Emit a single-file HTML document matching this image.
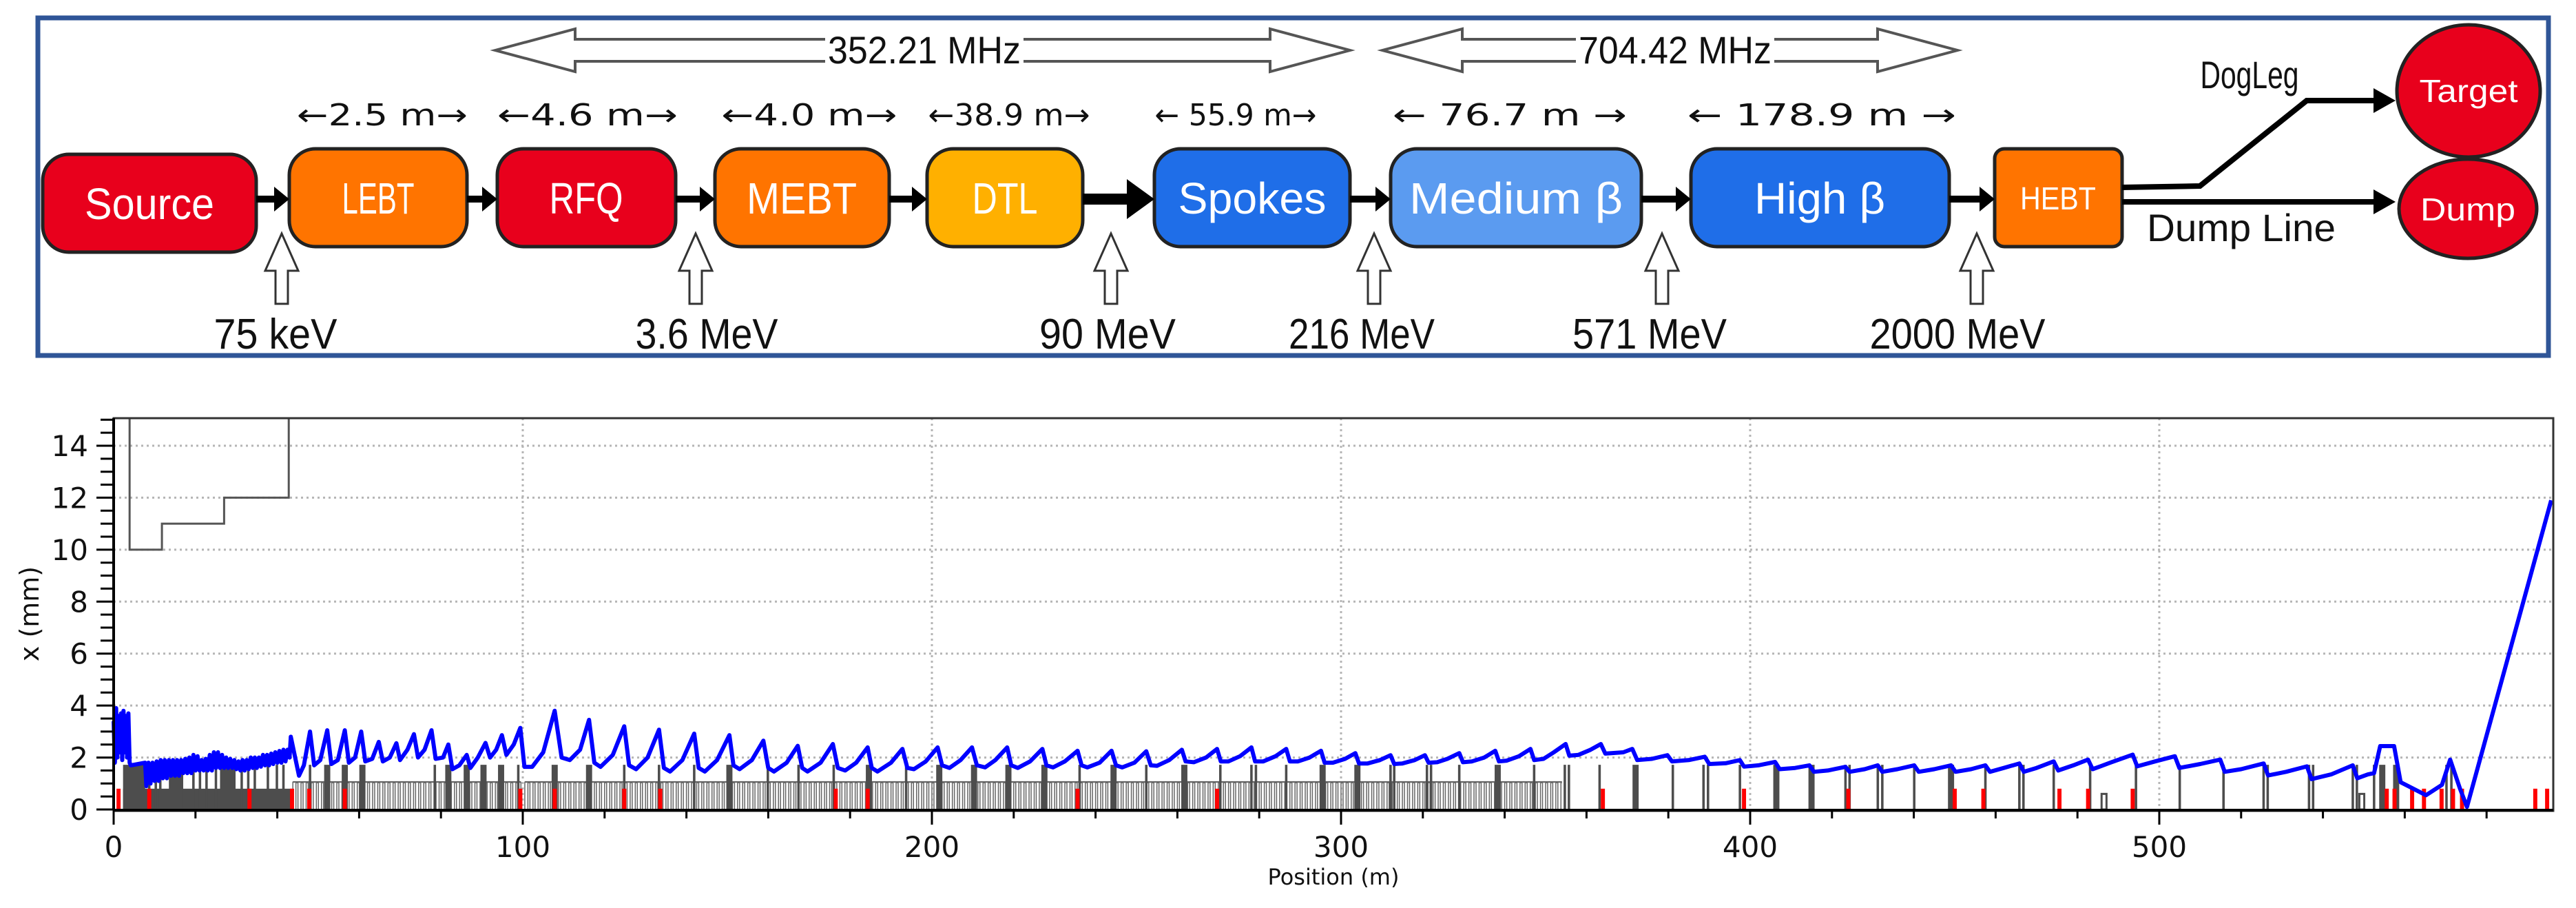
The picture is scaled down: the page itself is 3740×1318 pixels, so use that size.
<!DOCTYPE html>
<html><head><meta charset="utf-8">
<style>
html,body{margin:0;padding:0;background:#fff;}
svg{display:block;}
.lbl{font-family:"Liberation Sans",sans-serif;}
.ar{font-family:"DejaVu Sans","Liberation Sans",sans-serif;}
.tk{font-family:"DejaVu Sans","Liberation Sans",sans-serif;}
</style></head>
<body>
<svg id="root" width="3740" height="1318" viewBox="0 0 3740 1318" xmlns="http://www.w3.org/2000/svg">
<!-- ===== TOP DIAGRAM ===== -->
<g id="diagram">
<rect x="55" y="26" width="3645" height="490" fill="none" stroke="#2f5597" stroke-width="7"/>
<g>
<polygon points="719,73 835,42 835,57 1844,57 1844,42 1960,73 1844,104 1844,89 835,89 835,104" fill="#fff" stroke="#555" stroke-width="4"/>
<rect x="1198" y="46" width="288" height="56" fill="#fff"/>
<text x="1342" y="92" font-size="56" text-anchor="middle" class="lbl" fill="#111" textLength="280" lengthAdjust="spacingAndGlyphs">352.21 MHz</text>
</g>
<g>
<polygon points="2007,73 2123,42 2123,57 2726,57 2726,42 2842,73 2726,104 2726,89 2123,89 2123,104" fill="#fff" stroke="#555" stroke-width="4"/>
<rect x="2288" y="46" width="288" height="56" fill="#fff"/>
<text x="2432" y="92" font-size="56" text-anchor="middle" class="lbl" fill="#111" textLength="280" lengthAdjust="spacingAndGlyphs">704.42 MHz</text>
</g>
<g class="ar" font-size="44" fill="#111" text-anchor="middle">
<text x="555" y="182" textLength="248" lengthAdjust="spacingAndGlyphs">←2.5 m→</text>
<text x="853" y="182" textLength="262" lengthAdjust="spacingAndGlyphs">←4.6 m→</text>
<text x="1175" y="182" textLength="255" lengthAdjust="spacingAndGlyphs">←4.0 m→</text>
<text x="1465" y="182" textLength="235" lengthAdjust="spacingAndGlyphs">←38.9 m→</text>
<text x="1794" y="182" textLength="235" lengthAdjust="spacingAndGlyphs">← 55.9 m→</text>
<text x="2192" y="182" textLength="340" lengthAdjust="spacingAndGlyphs">← 76.7 m →</text>
<text x="2645" y="182" textLength="390" lengthAdjust="spacingAndGlyphs">← 178.9 m →</text>
</g>
<g stroke="#222" stroke-width="5">
<rect x="62" y="224" width="310" height="142" rx="38" fill="#e8001c"/>
<rect x="420" y="216" width="258" height="142" rx="38" fill="#ff7400"/>
<rect x="722" y="216" width="259" height="142" rx="38" fill="#e8001c"/>
<rect x="1038" y="216" width="253" height="142" rx="38" fill="#ff7400"/>
<rect x="1346" y="216" width="226" height="142" rx="38" fill="#ffb000"/>
<rect x="1676" y="216" width="284" height="142" rx="38" fill="#1f6ee8"/>
<rect x="2019" y="216" width="364" height="142" rx="38" fill="#5b9bf0"/>
<rect x="2455" y="216" width="375" height="142" rx="38" fill="#1f6ee8"/>
<rect x="2896" y="216" width="185" height="142" rx="14" fill="#ff7400"/>
<ellipse cx="3584" cy="132" rx="104" ry="96" fill="#e8001c"/>
<ellipse cx="3583" cy="303" rx="100" ry="72" fill="#e8001c"/>
</g>
<g class="lbl" fill="#fff" text-anchor="middle" font-size="64">
<text x="217" y="318" textLength="188" lengthAdjust="spacingAndGlyphs">Source</text>
<text x="549" y="310" textLength="105" lengthAdjust="spacingAndGlyphs">LEBT</text>
<text x="851" y="310" textLength="107" lengthAdjust="spacingAndGlyphs">RFQ</text>
<text x="1164" y="310" textLength="160" lengthAdjust="spacingAndGlyphs">MEBT</text>
<text x="1459" y="310" textLength="95" lengthAdjust="spacingAndGlyphs">DTL</text>
<text x="1818" y="310" textLength="215" lengthAdjust="spacingAndGlyphs">Spokes</text>
<text x="2201" y="310" textLength="310" lengthAdjust="spacingAndGlyphs">Medium β</text>
<text x="2642" y="310" textLength="190" lengthAdjust="spacingAndGlyphs">High β</text>
<text x="2988" y="304" font-size="46" textLength="110" lengthAdjust="spacingAndGlyphs">HEBT</text>
<text x="3584" y="148" font-size="46" textLength="143" lengthAdjust="spacingAndGlyphs">Target</text>
<text x="3583" y="320" font-size="46" textLength="138" lengthAdjust="spacingAndGlyphs">Dump</text>
</g>
<g fill="#000">
<rect x="372" y="284" width="30" height="10"/><polygon points="398,271 420,289 398,307"/>
<rect x="678" y="284" width="26" height="10"/><polygon points="700,271 722,289 700,307"/>
<rect x="981" y="284" width="39" height="10"/><polygon points="1016,271 1038,289 1016,307"/>
<rect x="1291" y="284" width="37" height="10"/><polygon points="1324,271 1346,289 1324,307"/>
<rect x="1572" y="281" width="70" height="16"/><polygon points="1636,260 1676,289 1636,318"/>
<rect x="1960" y="284" width="41" height="10"/><polygon points="1997,271 2019,289 1997,307"/>
<rect x="2383" y="284" width="54" height="10"/><polygon points="2433,271 2455,289 2433,307"/>
<rect x="2830" y="284" width="48" height="10"/><polygon points="2874,271 2896,289 2874,307"/>
</g>
<g fill="none" stroke="#000" stroke-width="8">
<polyline points="3081,272 3194,270 3349,146 3450,146"/>
<line x1="3081" y1="293" x2="3450" y2="293"/>
</g>
<polygon points="3446,128 3478,146 3446,164" fill="#000"/>
<polygon points="3446,275 3478,293 3446,311" fill="#000"/>
<text x="3266" y="128" font-size="56" text-anchor="middle" class="lbl" fill="#111" textLength="143" lengthAdjust="spacingAndGlyphs">DogLeg</text>
<text x="3254" y="350" font-size="56" text-anchor="middle" class="lbl" fill="#111" textLength="274" lengthAdjust="spacingAndGlyphs">Dump Line</text>
<g fill="#fff" stroke="#333" stroke-width="3">
<polygon points="409,339 433,393 418,393 418,441 400,441 400,393 385,393"/>
<polygon points="1010,339 1034,393 1019,393 1019,441 1001,441 1001,393 986,393"/>
<polygon points="1613,339 1637,393 1622,393 1622,441 1604,441 1604,393 1589,393"/>
<polygon points="1995,339 2019,393 2004,393 2004,441 1986,441 1986,393 1971,393"/>
<polygon points="2413,339 2437,393 2422,393 2422,441 2404,441 2404,393 2389,393"/>
<polygon points="2870,339 2894,393 2879,393 2879,441 2861,441 2861,393 2846,393"/>
</g>
<g class="lbl" font-size="62" fill="#111" text-anchor="middle">
<text x="400" y="506" textLength="179" lengthAdjust="spacingAndGlyphs">75 keV</text>
<text x="1026" y="506" textLength="207" lengthAdjust="spacingAndGlyphs">3.6 MeV</text>
<text x="1608" y="506" textLength="198" lengthAdjust="spacingAndGlyphs">90 MeV</text>
<text x="1977" y="506" textLength="212" lengthAdjust="spacingAndGlyphs">216 MeV</text>
<text x="2395" y="506" textLength="224" lengthAdjust="spacingAndGlyphs">571 MeV</text>
<text x="2842" y="506" textLength="255" lengthAdjust="spacingAndGlyphs">2000 MeV</text>
</g>
</g>
<g id="chart"></g>
</svg>
<script>
// ---- chart data ----
const xTicks = [0,100,200,300,400,500];
const yTicks = [0,2,4,6,8,10,12,14];
const envPos = [0,0.3,0.6,0.9,1.2,1.5,1.8,2.1,2.4,2.7,3.0,3.3,3.6,3.9,4.2,6,7.7,
8,8.5,9,9.5,10,10.5,11,11.5,12,12.5,13,13.5,14,14.5,15,15.5,16,16.5,17,17.5,18,18.5,19,19.5,20,20.5,21,21.5,22,22.5,23,23.5,24,24.5,25,25.5,26,26.5,27,27.5,28,28.5,29,29.5,30,30.5,31,31.5,32,32.5,33,33.5,34,34.5,35,35.5,36,36.5,37,37.5,38,38.5,39,39.5,40,40.5,41,41.5,42,42.5,43,43.3,45.3,
46.5,48.0,49,50.5,52.2,53.2,54.8,56.5,57.5,59,60.5,61.5,63.2,64.8,65.8,67.5,69.1,70,71.8,73.4,74.4,76,77.7,78.7,80.5,81.8,82.8,84.5,86.3,87.2,89,90.9,92,93.5,94.9,96,97.8,99.4,100.4,102.3,105,107.8,109.5,111.5,114,116.2,117.5,119,122,124.8,126,127.7,130.5,133.3,134.5,136,139,141.9,143,144.5,147.5,150.5,151.5,153,156,158.8,160,161.4,164.5,167.2,168.3,169.6,172.8,175.8,177,178.8,181.5,184.3,185.3,186.7,190,192.8,194,195.6,198.5,201.4,202.5,204.3,207,209.8,211,213,215.5,218.4,219.4,221,224,227,228,229.6,232.5,235.6,236.6,238,241,243.9,245,246.5,249.5,252.4,253.5,255,258,261.1,262,264,267,269.7,270.6,272.5,275.3,278.1,279,281,284,286.6,287.5,289.5,292.3,295.1,296,298,301,303.5,304.4,306.5,309.5,312.1,313,315,318,320.5,321.4,323.5,326,328.9,329.8,332,335,337.7,338.6,340.5,343.5,346.3,347.2,349.5,352,354.9,355.8,358,361,363.5,364.6,369,371.2,372.4,376,379.8,380.9,385,388.9,390,394,397.5,398.5,402,406.1,407.2,411,414.5,415.6,419,423.3,424.3,428,431.2,432.3,436,440.1,441.2,445,449.1,450.2,454,457.5,458.6,462,465.8,466.9,470,474.2,475.3,479,482.6,483.7,488,493.5,494.6,499,503.8,504.9,510,514.9,516,520,525.5,526.6,531,536.1,537.2,542,547.3,548.4,551,552.5,554,557.4,559,565.2,569.1,571.1,573.5,575.2,595.8];
const envX = [3.4,1.8,3.9,2.0,3.6,2.2,3.7,1.9,3.8,2.2,3.6,2.0,3.7,1.8,1.7,1.75,1.8,
0.9,1.8,1.0,1.8,1.1,1.85,1.1,1.9,1.2,1.9,1.2,1.9,1.3,1.9,1.3,1.9,1.3,1.9,1.4,1.95,1.4,2.0,1.4,2.1,1.5,2.05,1.5,1.9,1.5,1.95,1.5,2.1,1.5,2.2,1.6,2.2,1.6,2.1,1.6,2.0,1.6,1.95,1.6,1.9,1.55,1.85,1.5,1.9,1.5,1.9,1.55,2.0,1.6,2.0,1.6,2.0,1.65,2.1,1.7,2.1,1.7,2.15,1.75,2.2,1.8,2.25,1.8,2.3,1.85,2.3,2.0,2.8,1.3,
1.7,3.0,1.7,1.9,3.05,1.75,1.9,3.05,1.8,2.0,3.0,1.85,1.95,2.6,1.85,2.0,2.55,1.9,2.3,2.9,2.0,2.3,3.05,1.95,2.0,2.5,1.55,1.7,2.1,1.6,2.0,2.56,2.0,2.3,2.86,2.1,2.5,3.14,1.64,1.64,2.2,3.8,2.0,1.9,2.3,3.45,1.8,1.64,2.1,3.2,1.7,1.55,2.0,3.07,1.6,1.46,1.9,2.92,1.6,1.46,1.9,2.86,1.7,1.55,1.9,2.65,1.6,1.46,1.8,2.45,1.6,1.46,1.8,2.52,1.6,1.5,1.8,2.39,1.6,1.46,1.8,2.33,1.6,1.55,1.85,2.39,1.7,1.6,1.9,2.39,1.7,1.62,1.9,2.39,1.7,1.6,1.85,2.33,1.7,1.62,1.85,2.26,1.7,1.62,1.8,2.26,1.7,1.62,1.8,2.24,1.7,1.68,1.9,2.30,1.85,1.82,2.0,2.33,1.85,1.85,2.05,2.39,1.85,1.85,2.05,2.33,1.85,1.85,2.0,2.26,1.8,1.8,1.95,2.17,1.77,1.77,1.9,2.09,1.75,1.77,1.9,2.09,1.8,1.82,1.95,2.17,1.82,1.85,2.0,2.26,1.85,1.88,2.05,2.33,1.9,1.95,2.2,2.52,2.07,2.1,2.3,2.52,2.15,2.2,2.33,1.9,1.95,2.09,1.85,1.9,2.03,1.75,1.78,1.90,1.65,1.7,1.83,1.55,1.6,1.70,1.45,1.5,1.64,1.45,1.55,1.70,1.45,1.55,1.70,1.45,1.55,1.70,1.45,1.55,1.70,1.45,1.6,1.77,1.45,1.6,1.85,1.5,1.7,1.92,1.55,1.8,2.11,1.66,1.85,2.05,1.6,1.75,1.92,1.45,1.55,1.77,1.31,1.45,1.66,1.17,1.35,1.70,1.2,1.35,1.4,2.44,2.44,1.05,0.55,0.95,1.92,0.8,0.1,11.9];
const apertureStepPos = [3.9,11.8,27.0,42.8];
const apertureStepVal = [10,11,12];
const quadBlocks = [[2.3,7.7],[13.5,17.0],[26.0,29.8]];
const quadThick = [52.2,56.5,60.8,81.8,86.3,90.4,94.7,107.8,116.2,150.5,184.6,201.8,210.3,218.7,227.5,244.4,261.7,295.5,304.0,338.3,372.0,406.4,415.0,449.1,554.5,557.9];
const quadThin = [8.7,10.3,11.4,19.5,21.1,22.7,25.0,31.3,32.9,34.5,37.7,39.9,41.5,48.0,78.5,98.9,124.8,133.3,141.9,159.9,167.4,176.0,193.7,236.1,252.4,270.5,278.1,279.2,286.6,312.1,313.0,321.0,322.0,328.9,347.2,354.7,355.7,363.2,381.1,388.6,389.7,397.5,423.3,424.3,431.2,432.3,440.1,457.5,465.8,466.8,474.2,483.1,494.3,505.0,515.7,525.5,526.5,536.6,537.6,547.3,548.3,552.5,570.2,571.4];
const redPos = [1.2,8.7,33.2,43.6,47.8,56.5,99.4,107.8,124.8,133.6,176.5,184.3,235.6,269.7,364,398.5,424,450,457,475.6,482.6,493.5,555.6,557.5,561.8,564.7,569,571.8,574,591.9,594.8];
const cellRanges = [[43.8,99.5],[100.5,354]];
const smallElems = [486.5,549.5];
const quadHeight = 1.72, cellHeight = 1.05, redHeight = 0.8, earlyFill = 0.8;

const L=165, R=3707, T=607, B=1175, XMAX=596.3, YMAX=15.06;
const X = m => L + m*(R-L)/XMAX;
const Y = v => B - v*(B-T)/YMAX;
const NS="http://www.w3.org/2000/svg";
const chart=document.getElementById('chart');
function mk(tag, attrs, parent){const e=document.createElementNS(NS,tag);for(const k in attrs)e.setAttribute(k,attrs[k]);(parent||chart).appendChild(e);return e;}

for(const t of yTicks){ if(t===0) continue;
  const g=mk('line',{x1:L,x2:R,y1:Y(t),y2:Y(t),stroke:'#b5b5b5','stroke-width':3,'stroke-dasharray':'3 5'});
  
  
}
for(const t of xTicks){ if(t===0) continue;
  const g=mk('line',{x1:X(t),x2:X(t),y1:T,y2:B,stroke:'#b5b5b5','stroke-width':3,'stroke-dasharray':'3 5'});
  
  
}
const ef=mk('rect',{x:X(2.3),y:Y(earlyFill),width:X(43.6)-X(2.3),height:Y(0)-Y(earlyFill),fill:'#4d4d4d'});


for(const r of cellRanges){
  const top=mk('line',{x1:X(r[0]),x2:X(r[1]),y1:Y(cellHeight),y2:Y(cellHeight),stroke:'#666','stroke-width':3});
  
  
  for(let s=r[0]; s<r[1]-0.5; s+=1.25){
    const c=mk('rect',{x:X(s),y:Y(cellHeight),width:X(0.75)-X(0),height:Y(0)-Y(cellHeight),fill:'#fff',stroke:'#666','stroke-width':1.5});
    
    
  }
}
for(const b of quadBlocks){
  const q=mk('rect',{x:X(b[0]),y:Y(quadHeight),width:X(b[1])-X(b[0]),height:Y(0)-Y(quadHeight),fill:'#4d4d4d'});
  
  
}
for(const p of quadThick){
  const q=mk('rect',{x:X(p-0.75),y:Y(quadHeight),width:X(1.5)-X(0),height:Y(0)-Y(quadHeight),fill:'#4d4d4d'});
  
  
}
for(const p of quadThin){
  const q=mk('rect',{x:X(p-0.3),y:Y(quadHeight),width:X(0.6)-X(0),height:Y(0)-Y(quadHeight),fill:'#4d4d4d'});
  
  
}
for(const p of smallElems){
  const q=mk('rect',{x:X(p-0.6),y:Y(0.6),width:X(1.2)-X(0),height:Y(0)-Y(0.6),fill:'#fff',stroke:'#4d4d4d','stroke-width':3});
  
  
}
for(const p of redPos){
  const q=mk('rect',{x:X(p-0.5),y:Y(redHeight),width:X(1.0)-X(0),height:Y(0)-Y(redHeight),fill:'#ff0000'});
  
  
}
let ap=`${X(apertureStepPos[0])},${Y(YMAX)}`;
for(let i=0;i<apertureStepVal.length;i++){
  ap+=` ${X(apertureStepPos[i])},${Y(apertureStepVal[i])} ${X(apertureStepPos[i+1])},${Y(apertureStepVal[i])}`;
}
ap+=` ${X(apertureStepPos[apertureStepPos.length-1])},${Y(YMAX)}`;
const apl=mk('polyline',{points:ap,fill:'none',stroke:'#555','stroke-width':3});


const pts=envPos.map((p,i)=>`${X(p).toFixed(1)},${Y(envX[i]).toFixed(1)}`).join(' ');
const env=mk('polyline',{points:pts,fill:'none',stroke:'#0000ff','stroke-width':6,'stroke-linejoin':'round'});


const fr=mk('rect',{x:L,y:T,width:R-L,height:B-T+2,fill:'none',stroke:'#333','stroke-width':3});


const xa=mk('line',{x1:L,x2:R,y1:B+1,y2:B+1,stroke:'#000','stroke-width':4});


const ya=mk('line',{x1:L,x2:L,y1:T,y2:B+1,stroke:'#000','stroke-width':4});


for(let v=0; v<=15.01; v+=0.5){
  const major = Math.abs(v%2)<0.01;
  const t=mk('line',{x1:major?140:146,x2:L,y1:Y(v),y2:Y(v),stroke:'#000','stroke-width':3});
  
  
}
for(const v of yTicks){
  const tx=mk('text',{x:128,y:Y(v)+15,'font-size':42,'text-anchor':'end',class:'tk',fill:'#111'});
  tx.textContent=String(v);
  
  
}
for(let m=0; m<=XMAX; m+=20){
  const major = m%100===0;
  const t=mk('line',{x1:X(m),x2:X(m),y1:B,y2:major?1197:1188,stroke:'#000','stroke-width':3});
  
  
}
for(const v of xTicks){
  const tx=mk('text',{x:X(v),y:1244,'font-size':42,'text-anchor':'middle',class:'tk',fill:'#111'});
  tx.textContent=String(v);
  
  
}
const yt=mk('text',{x:0,y:0,'font-size':38,'text-anchor':'middle',class:'tk',fill:'#111',transform:`translate(56,${(T+B)/2}) rotate(-90)`});
yt.textContent='x (mm)';


const xt=mk('text',{x:(L+R)/2,y:1284,'font-size':32,'text-anchor':'middle',class:'tk',fill:'#111'});
xt.textContent='Position (m)';


</script>
</body></html>
